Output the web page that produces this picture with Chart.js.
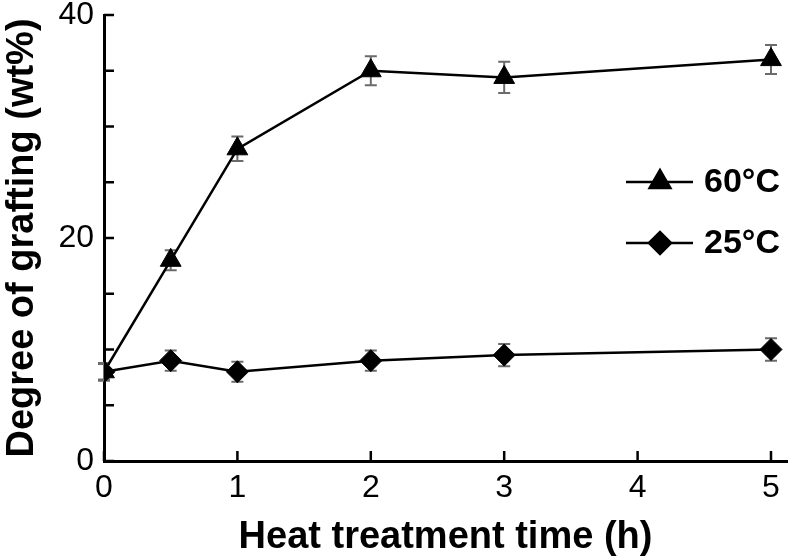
<!DOCTYPE html>
<html>
<head>
<meta charset="utf-8">
<script src="https://cdn.jsdelivr.net/npm/chart.js@4/dist/chart.umd.min.js"></script>
<style>
  html, body { margin: 0; padding: 0; background: #fff; }
  #wrap { width: 800px; height: 560px; }
</style>
</head>
<body>
<div id="wrap"><canvas id="grafting" width="800" height="560"></canvas></div>
<script>
// data
const hours = [0, 0.5, 1, 2, 3, 5];
const graft60 = [8, 18, 28, 35, 34.4, 36];
const err60 = [0.8, 0.9, 1.1, 1.3, 1.4, 1.3];
const graft25 = [8, 9, 8, 9, 9.5, 10];
const err25 = [0.7, 0.9, 0.9, 0.9, 1.0, 1.0];
const seriesLabels = ['60°C', '25°C'];
const xTickValues = [0, 1, 2, 3, 4, 5];
const yTickLabels = [0, 20, 40];
const yMinorStep = 5;

const FONT = "'Liberation Sans', Arial, Helvetica, sans-serif";

function toPoints(xs, ys, es) {
  return xs.map((x, i) => ({ x, y: ys[i], err: es[i] }));
}

// grey error bars, drawn under the markers
const errorBars = {
  id: 'errorBars',
  beforeDatasetsDraw(chart) {
    const { ctx, scales: { x, y } } = chart;
    ctx.save();
    ctx.strokeStyle = '#6b6b6b';
    ctx.lineWidth = 2;
    chart.data.datasets.forEach(ds => {
      ds.data.forEach(p => {
        const px = x.getPixelForValue(p.x);
        const top = y.getPixelForValue(p.y + p.err);
        const bot = y.getPixelForValue(p.y - p.err);
        ctx.beginPath();
        ctx.moveTo(px, top); ctx.lineTo(px, bot);
        ctx.moveTo(px - 6, top); ctx.lineTo(px + 6, top);
        ctx.moveTo(px - 6, bot); ctx.lineTo(px + 6, bot);
        ctx.stroke();
      });
    });
    ctx.restore();
  }
};

// tick marks pointing into the plot
const innerTicks = {
  id: 'innerTicks',
  afterDraw(chart) {
    const { ctx, scales: { x, y } } = chart;
    const len = 10;
    ctx.save();
    ctx.strokeStyle = '#000';
    ctx.lineWidth = 2.5;
    ctx.beginPath();
    xTickValues.forEach(v => {
      const px = x.getPixelForValue(v);
      ctx.moveTo(px, y.bottom); ctx.lineTo(px, y.bottom - len);
    });
    for (let v = 0; v <= 40; v += yMinorStep) {
      const py = y.getPixelForValue(v);
      ctx.moveTo(x.left, py); ctx.lineTo(x.left + len, py);
    }
    ctx.stroke();
    ctx.restore();
  }
};

// line + marker legend on the right
const lineLegend = {
  id: 'lineLegend',
  afterDraw(chart) {
    const { ctx } = chart;
    const rows = [182, 243];
    ctx.save();
    chart.data.datasets.forEach((ds, i) => {
      const yy = rows[i];
      ctx.strokeStyle = '#000';
      ctx.lineWidth = 2.5;
      ctx.beginPath();
      ctx.moveTo(626, yy); ctx.lineTo(693, yy);
      ctx.stroke();
      ctx.fillStyle = '#000';
      Chart.helpers.drawPoint(ctx, {
        pointStyle: ds.pointStyle, radius: ds.pointRadius, borderWidth: 1
      }, 660, yy);
      ctx.fillStyle = '#000';
      ctx.font = 'bold 34px ' + FONT;
      ctx.textBaseline = 'middle';
      ctx.textAlign = 'left';
      ctx.fillText(ds.label, 704, yy + 1);
    });
    ctx.restore();
  }
};

new Chart(document.getElementById('grafting'), {
  type: 'scatter',
  data: {
    datasets: [
      {
        label: seriesLabels[0],
        data: toPoints(hours, graft60, err60),
        showLine: true,
        borderColor: '#000',
        borderWidth: 2.5,
        backgroundColor: '#000',
        pointStyle: 'triangle',
        pointRadius: 12,
        pointBorderWidth: 1
      },
      {
        label: seriesLabels[1],
        data: toPoints(hours, graft25, err25),
        showLine: true,
        borderColor: '#000',
        borderWidth: 2.5,
        backgroundColor: '#000',
        pointStyle: 'rectRot',
        pointRadius: 11,
        pointBorderWidth: 1
      }
    ]
  },
  options: {
    responsive: false,
    animation: false,
    layout: { padding: { top: 15, right: 1, left: 0, bottom: 0 } },
    plugins: {
      legend: { display: false },
      tooltip: { enabled: false }
    },
    scales: {
      x: {
        type: 'linear',
        min: 0,
        max: 5.12,
        afterBuildTicks(scale) {
          scale.ticks = xTickValues.map(v => ({ value: v }));
        },
        afterFit(scale) {
          scale.height = 99;
          scale.paddingLeft = 0;
          scale.paddingRight = 0;
        },
        grid: { drawOnChartArea: false, drawTicks: false },
        border: { color: '#000', width: 3 },
        ticks: {
          color: '#000',
          padding: 11,
          maxRotation: 0,
          font: { family: FONT, size: 32, lineHeight: 1 }
        },
        title: {
          display: true,
          text: 'Heat treatment time (h)',
          color: '#000',
          padding: { top: 0, bottom: 0 },
          font: { family: FONT, size: 38, weight: 'bold', lineHeight: 1.2 }
        }
      },
      y: {
        min: 0,
        max: 40,
        afterFit(scale) {
          scale.width = 104;
          scale.paddingTop = 0;
          scale.paddingBottom = 0;
        },
        grid: { drawOnChartArea: false, drawTicks: false },
        border: { color: '#000', width: 3 },
        ticks: {
          stepSize: yMinorStep,
          color: '#000',
          padding: 10,
          font: { family: FONT, size: 32, lineHeight: 1 },
          callback: v => (yTickLabels.includes(v) ? v : '')
        },
        title: {
          display: true,
          text: 'Degree of grafting (wt%)',
          color: '#000',
          padding: { top: 0, bottom: 0 },
          font: { family: FONT, size: 38, weight: 'bold', lineHeight: 1.2 }
        }
      }
    }
  },
  plugins: [errorBars, innerTicks, lineLegend]
});
</script>
</body>
</html>
